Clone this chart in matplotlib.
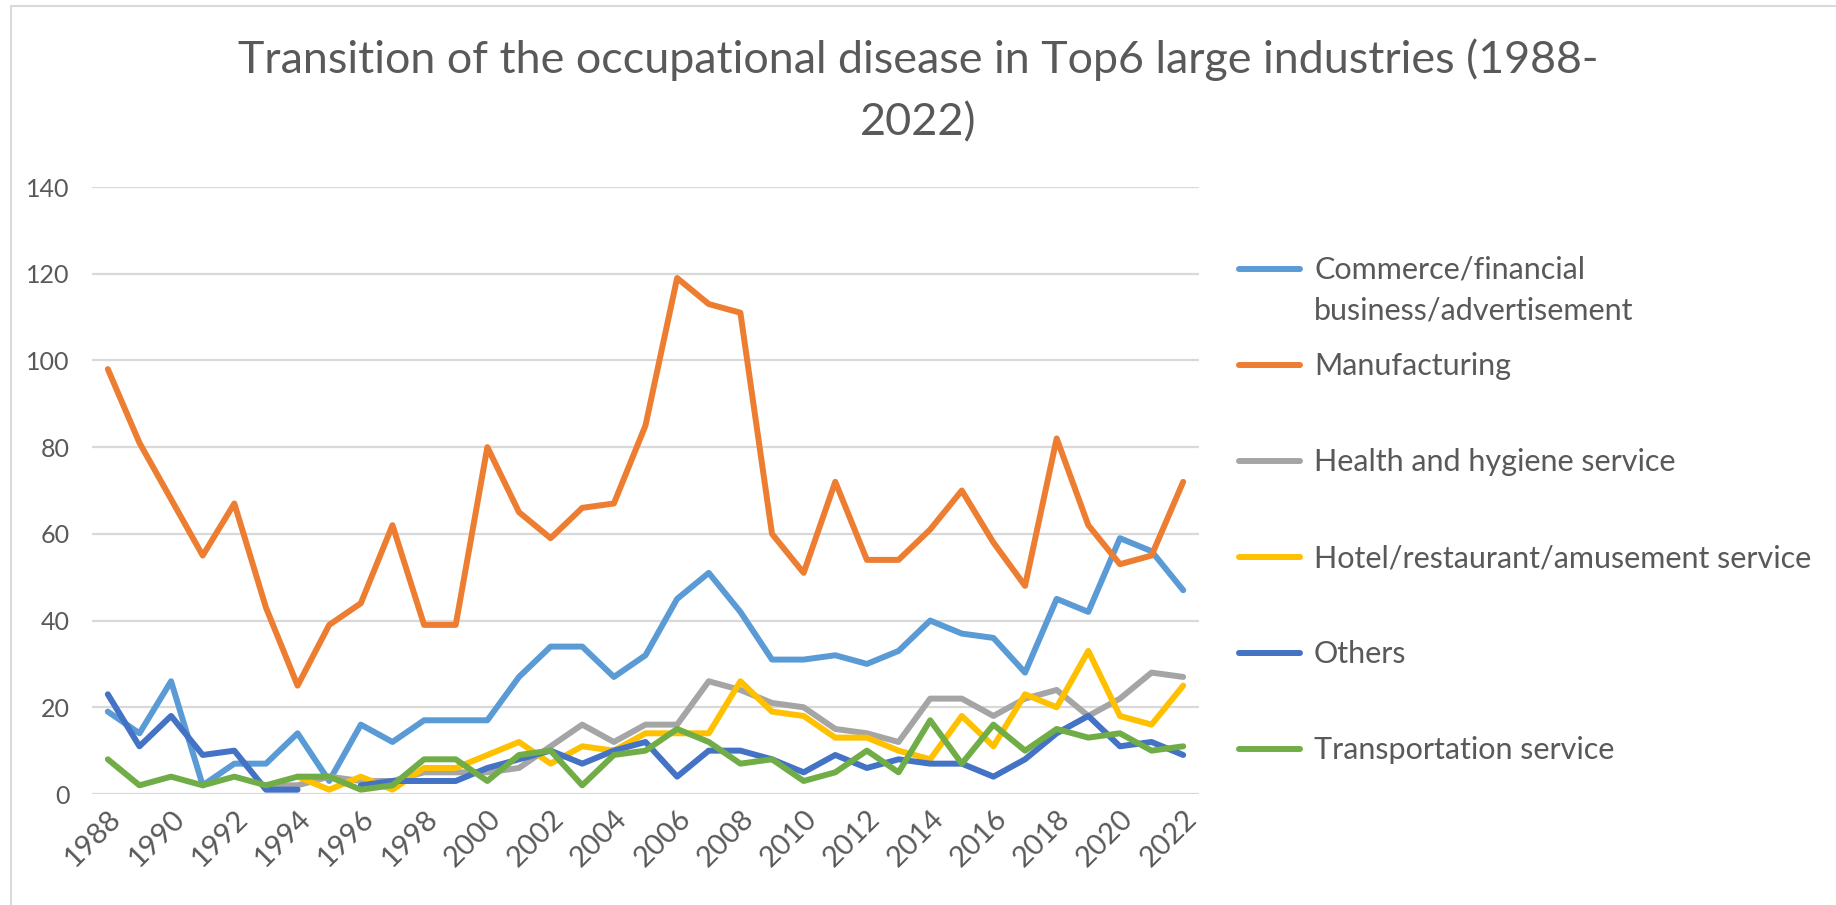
import numpy as np
import matplotlib
matplotlib.use("Agg")
import matplotlib.pyplot as plt
from matplotlib.lines import Line2D
from matplotlib.patches import Rectangle

nan = np.nan
years = list(range(1988, 2023))
series_names = [
    "Commerce/financial\nbusiness/advertisement",
    "Manufacturing",
    "Health and hygiene service",
    "Hotel/restaurant/amusement service",
    "Others",
    "Transportation service",
]
series_colors = ["#5B9BD5", "#ED7D31", "#A5A5A5", "#FFC000", "#4472C4", "#70AD47"]

commerce = [19, 14, 26, 2, 7, 7, 14, 3, 16, 12,
            17, 17, 17, 27, 34, 34, 27, 32, 45, 51,
            42, 31, 31, 32, 30, 33, 40, 37, 36, 28,
            45, 42, 59, 56, 47]
manufacturing = [98, 81, 68, 55, 67, 43, 25, 39, 44, 62,
                 39, 39, 80, 65, 59, 66, 67, 85, 119, 113,
                 111, 60, 51, 72, 54, 54, 61, 70, 58, 48,
                 82, 62, 53, 55, 72]
health = [nan, nan, nan, nan, nan, 2, 2, 4, 3, 3,
          5, 5, 5, 6, 11, 16, 12, 16, 16, 26,
          24, 21, 20, 15, 14, 12, 22, 22, 18, 22,
          24, 18, 22, 28, 27]
hotel = [nan, nan, nan, nan, nan, nan, 4, 1, 4, 1,
         6, 6, 9, 12, 7, 11, 10, 14, 14, 14,
         26, 19, 18, 13, 13, 10, 8, 18, 11, 23,
         20, 33, 18, 16, 25]
others = [23, 11, 18, 9, 10, 1, 1, nan, 2, 3,
          3, 3, 6, 8, 10, 7, 10, 12, 4, 10,
          10, 8, 5, 9, 6, 8, 7, 7, 4, 8,
          14, 18, 11, 12, 9]
transport = [8, 2, 4, 2, 4, 2, 4, 4, 1, 2,
             8, 8, 3, 9, 10, 2, 9, 10, 15, 12,
             7, 8, 3, 5, 10, 5, 17, 7, 16, 10,
             15, 13, 14, 10, 11]
all_series = [commerce, manufacturing, health, hotel, others, transport]

title = "Transition of the occupational disease in Top6 large industries (1988-\n2022)"
yticks = [0, 20, 40, 60, 80, 100, 120, 140]
xtick_years = years[::2]

FONT = "Lato"
TXT = "#595959"
W, H = 1836, 905
fig = plt.figure(figsize=(W / 100, H / 100), dpi=100)

# chart border
fig.add_artist(Rectangle((11 / W, -0.1), 1.2, 1 - 6 / H + 0.1, transform=fig.transFigure,
                         fill=False, edgecolor="#D9D9D9", linewidth=1.5))

left, right = 92 / W, 1199 / W
bottom, top = 1 - 794 / H, 1 - 187 / H
ax = fig.add_axes([left, bottom, right - left, top - bottom])

for vals, col in zip(all_series, series_colors):
    ax.plot(years, vals, color=col, linewidth=4.3, solid_joinstyle="round",
            solid_capstyle="round", zorder=3)

ax.set_xlim(1987.5, 2022.5)
ax.set_ylim(0, 140)
ax.set_yticks(yticks)
ax.set_yticklabels([str(v) for v in yticks], fontsize=18, color=TXT, family=FONT)
ax.set_xticks(xtick_years)
ax.set_xticklabels([str(v) for v in xtick_years], fontsize=21, color=TXT, family=FONT,
                   rotation=45, ha="right", va="top", rotation_mode="anchor")
ax.tick_params(axis="both", length=0)
ax.tick_params(axis="y", pad=16)
ax.tick_params(axis="x", pad=8)
ax.grid(axis="y", color="#D9D9D9", linewidth=1.6, zorder=0)
ax.set_axisbelow(True)
for s in ax.spines.values():
    s.set_visible(False)

fig.text(0.5, 1 - 38 / H, title, ha="center", va="top", fontsize=32.3, color=TXT,
         family=FONT, linespacing=1.65)

# legend
leg_fs = 22
for i, (name, col) in enumerate(zip(series_names, series_colors)):
    yc = 1 - (269 + 96 * i) / H
    fig.add_artist(Line2D([1239 / W, 1300 / W], [yc, yc], transform=fig.transFigure,
                          color=col, linewidth=4.3, solid_capstyle="round"))
    fig.text(1314 / W, yc + 13 / H, name, ha="left", va="top", fontsize=leg_fs,
             color=TXT, family=FONT, linespacing=1.55)

fig.savefig("out.png", dpi=100)
